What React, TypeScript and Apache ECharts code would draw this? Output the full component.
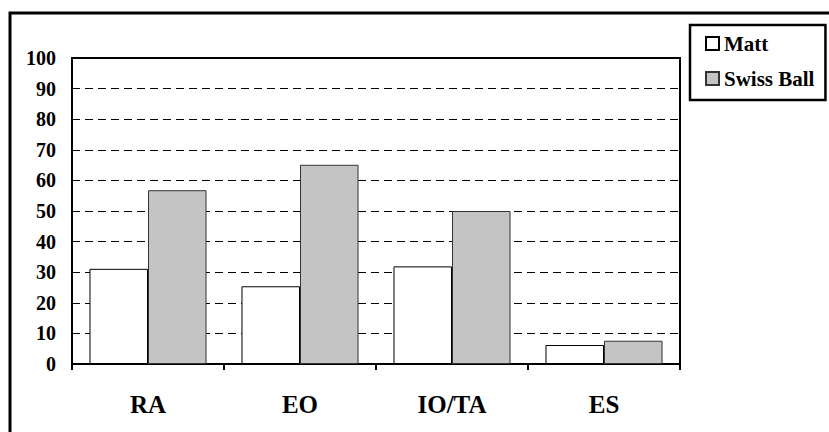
import React, { useEffect, useRef } from "react";
import * as echarts from "echarts";

const categories = ["RA", "EO", "IO/TA", "ES"];
const mattValues = [31.1, 25.4, 31.9, 6.2];
const swissBallValues = [56.8, 65.1, 50.0, 7.6];
const seriesNames = ["Matt", "Swiss Ball"];

export default function App() {
  const ref = useRef<HTMLDivElement>(null);
  useEffect(() => {
    document.body.style.margin = "0";
    if (!ref.current) return;
    const chart = echarts.init(ref.current, null, { renderer: "svg" });
    const font = "'Times New Roman', Times, 'Nimbus Roman', Tinos, FreeSerif, 'Liberation Serif', serif";
    chart.setOption({
      animation: false,
      backgroundColor: "#ffffff",
      grid: {
        left: 72,
        top: 58,
        width: 608,
        height: 306,
        show: true,
        borderColor: "#000",
        borderWidth: 2,
        backgroundColor: "transparent",
      },
      legend: {
        orient: "vertical",
        left: 690,
        top: 25,
        data: seriesNames,
        icon: "rect",
        itemWidth: 13,
        itemHeight: 13,
        itemGap: 14,
        itemTextGap: 6,
        padding: [8, 11, 11, 15],
        borderColor: "#000",
        borderWidth: 2.5,
        textStyle: { fontFamily: font, fontWeight: "bold", fontSize: 21, color: "#000" },
      },
      xAxis: {
        type: "category",
        data: categories,
        boundaryGap: true,
        axisLine: { show: true, lineStyle: { color: "#000", width: 2 } },
        axisTick: { show: true, inside: false, length: 6, interval: 0, lineStyle: { color: "#000", width: 2 } },
        axisLabel: { fontFamily: font, fontWeight: "bold", fontSize: 25, color: "#000", margin: 28 },
      },
      yAxis: {
        type: "value",
        min: 0,
        max: 100,
        interval: 10,
        axisLine: { show: true, lineStyle: { color: "#000", width: 2 } },
        axisTick: { show: false },
        axisLabel: { fontFamily: font, fontWeight: "bold", fontSize: 20, color: "#000", margin: 16 },
        splitLine: { show: true, lineStyle: { color: "#000", width: 1, type: [8, 5] } },
      },
      series: [
        {
          name: seriesNames[0],
          type: "bar",
          data: mattValues,
          barGap: "0%",
          barCategoryGap: "23%",
          itemStyle: { color: "#ffffff", borderColor: "#000", borderWidth: 1 },
        },
        {
          name: seriesNames[1],
          type: "bar",
          data: swissBallValues,
          barGap: "0%",
          barCategoryGap: "23%",
          itemStyle: { color: "#c4c4c4", borderColor: "#333", borderWidth: 1 },
        },
      ],
      graphic: [
        {
          type: "rect",
          shape: { x: 10, y: 13, width: 900, height: 500 },
          style: { fill: "none", stroke: "#000", lineWidth: 3 },
          silent: true,
        },
      ],
    });
    return () => chart.dispose();
  }, []);
  return <div ref={ref} style={{ width: 829, height: 432 }} />;
}
